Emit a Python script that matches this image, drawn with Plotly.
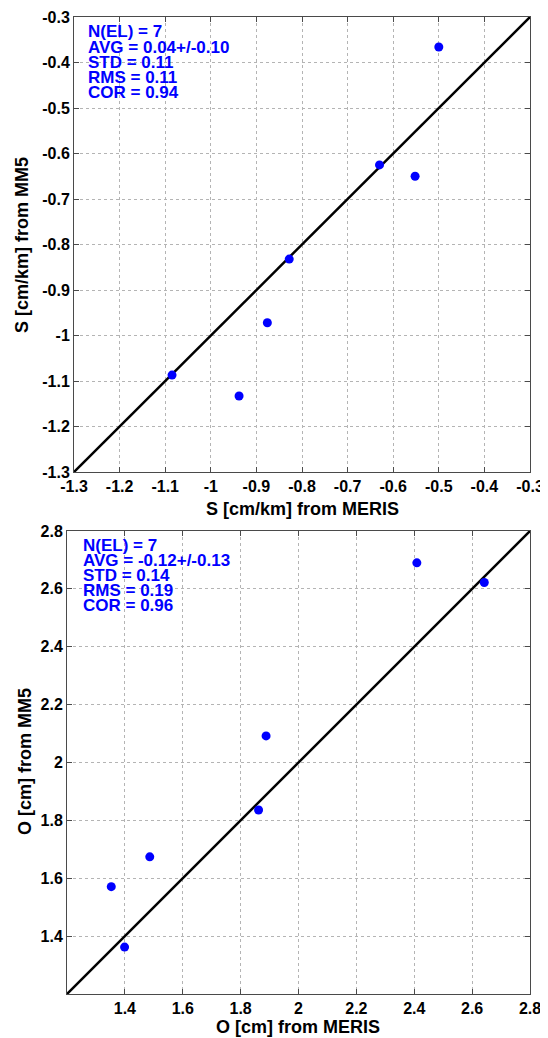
import plotly.graph_objects as go

# page body has an 8px default margin; lay out in page pixels and convert
PAGE_W, PAGE_H = 548, 1038
OFF = 8
W, H = PAGE_W - OFF, PAGE_H - OFF

# ---- data ----
s_meris = [-0.500, -0.630, -0.552, -0.828, -0.876, -0.938, -1.085]
s_mm5 = [-0.366, -0.625, -0.650, -0.832, -0.972, -1.133, -1.087]
o_meris = [2.642, 2.409, 1.862, 1.888, 1.486, 1.353, 1.399]
o_mm5 = [2.622, 2.690, 1.836, 2.092, 1.674, 1.571, 1.362]

s_range = [-1.3, -0.3]
o_range = [1.2, 2.8]
s_ticks = [-1.3, -1.2, -1.1, -1.0, -0.9, -0.8, -0.7, -0.6, -0.5, -0.4, -0.3]
s_ticklabels = ["-1.3", "-1.2", "-1.1", "-1", "-0.9", "-0.8", "-0.7", "-0.6", "-0.5", "-0.4", "-0.3"]
o_ticks = [1.4, 1.6, 1.8, 2.0, 2.2, 2.4, 2.6, 2.8]
o_ticklabels = ["1.4", "1.6", "1.8", "2", "2.2", "2.4", "2.6", "2.8"]

s_stats = ["N(EL) = 7", "AVG = 0.04+/-0.10", "STD = 0.11", "RMS = 0.11", "COR = 0.94"]
o_stats = ["N(EL) = 7", "AVG = -0.12+/-0.13", "STD = 0.14", "RMS = 0.19", "COR = 0.96"]

FONT = "Liberation Sans, Arial, sans-serif"
BLUE = "#0000ff"


def fx(px):
    return (px - OFF) / W


def fy(py):
    return 1 - (py - OFF) / H


fig = go.Figure()

# 1:1 lines
fig.add_trace(go.Scatter(x=s_range, y=s_range, mode="lines",
                         line=dict(color="black", width=2.5),
                         xaxis="x", yaxis="y", showlegend=False, hoverinfo="skip"))
fig.add_trace(go.Scatter(x=o_range, y=o_range, mode="lines",
                         line=dict(color="black", width=2.5),
                         xaxis="x2", yaxis="y2", showlegend=False, hoverinfo="skip"))
# points
fig.add_trace(go.Scatter(x=s_meris, y=s_mm5, mode="markers",
                         marker=dict(color=BLUE, size=9, line=dict(width=0)),
                         xaxis="x", yaxis="y", showlegend=False))
fig.add_trace(go.Scatter(x=o_meris, y=o_mm5, mode="markers",
                         marker=dict(color=BLUE, size=9, line=dict(width=0)),
                         xaxis="x2", yaxis="y2", showlegend=False))

axis_common = dict(
    showgrid=True, gridcolor="#b4b4b4", griddash="dot", gridwidth=1,
    showline=True, linecolor="#4a4a4a", linewidth=1, mirror="ticks",
    ticks="inside", ticklen=5, tickcolor="#4a4a4a",
    tickfont=dict(family=FONT, size=16, color="black", weight="bold"),
    zeroline=False, fixedrange=True, automargin=False,
)

fig.update_layout(
    width=W, height=H,
    margin=dict(l=0, r=0, t=0, b=0, autoexpand=False),
    paper_bgcolor="white", plot_bgcolor="white",
    showlegend=False,
    xaxis=dict(domain=[fx(74), fx(530)], range=s_range, tickvals=s_ticks,
               ticktext=s_ticklabels, anchor="y", **axis_common),
    yaxis=dict(domain=[fy(472), fy(17)], range=s_range, tickvals=s_ticks,
               ticktext=s_ticklabels, anchor="x", **axis_common),
    xaxis2=dict(domain=[fx(67), fx(530)], range=o_range, tickvals=o_ticks,
                ticktext=o_ticklabels, anchor="y2", **axis_common),
    yaxis2=dict(domain=[fy(994), fy(531)], range=o_range, tickvals=o_ticks,
                ticktext=o_ticklabels, anchor="x2", **axis_common),
)

annotations = []
title_font = dict(family=FONT, size=18, color="black", weight="bold")
annotations.append(dict(text="S [cm/km] from MERIS", x=fx(302), y=fy(509), xref="paper", yref="paper",
                        showarrow=False, xanchor="center", yanchor="middle", font=title_font))
annotations.append(dict(text="S [cm/km] from MM5", x=fx(22), y=fy(245), xref="paper", yref="paper",
                        showarrow=False, xanchor="center", yanchor="middle", textangle=-90, font=title_font))
annotations.append(dict(text="O [cm] from MERIS", x=fx(298), y=fy(1027), xref="paper", yref="paper",
                        showarrow=False, xanchor="center", yanchor="middle", font=title_font))
annotations.append(dict(text="O [cm] from MM5", x=fx(25), y=fy(762), xref="paper", yref="paper",
                        showarrow=False, xanchor="center", yanchor="middle", textangle=-90, font=title_font))

stat_font = dict(family=FONT, size=17, color=BLUE, weight="bold")
for i, t in enumerate(s_stats):
    annotations.append(dict(text=t, x=fx(86), y=fy(32 + 15 * i), xref="paper", yref="paper",
                            showarrow=False, xanchor="left", yanchor="middle", font=stat_font))
for i, t in enumerate(o_stats):
    annotations.append(dict(text=t, x=fx(81), y=fy(545 + 15.2 * i), xref="paper", yref="paper",
                            showarrow=False, xanchor="left", yanchor="middle", font=stat_font))

fig.update_layout(annotations=annotations)

fig.write_html("out.html")
